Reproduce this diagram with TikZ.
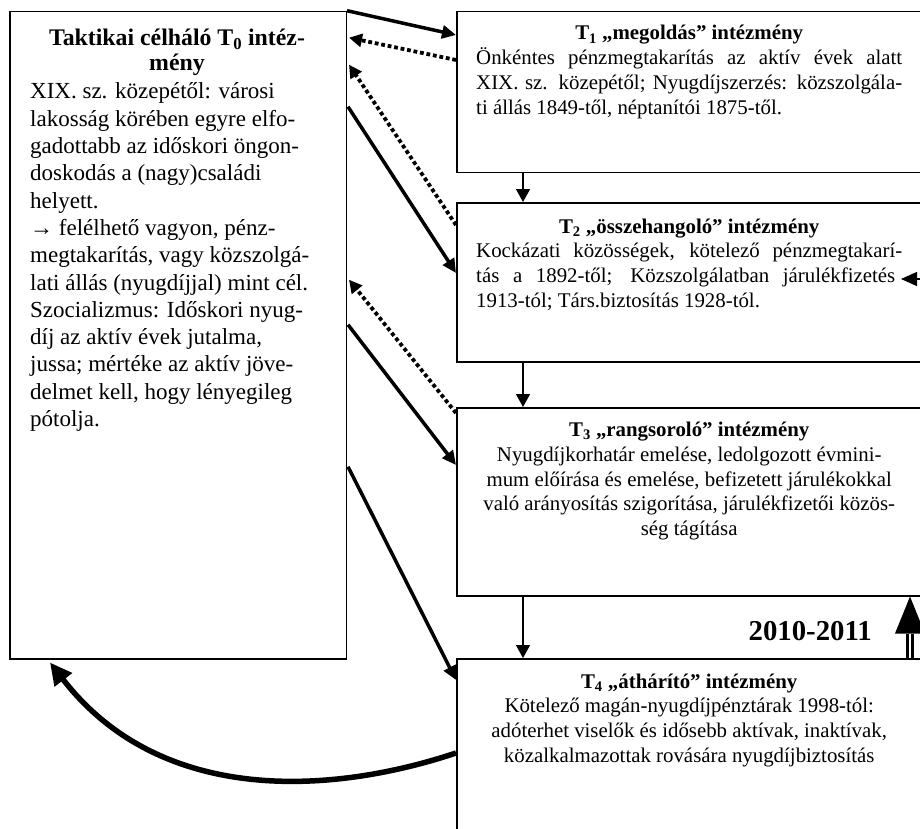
\documentclass[tikz,border=0pt]{standalone}
\usepackage{fontspec}
\setmainfont{Liberation Serif}
\usetikzlibrary{arrows.meta,calc}
\tikzset{
  boxnode/.style={draw, line width=1.5pt, rectangle, inner sep=0pt, anchor=north west},
  lefttext/.style={inner sep=0pt, text width=310pt, align=flush left, anchor=base west,
    font=\fontsize{23.0}{27.3}\selectfont},
  lefttitle/.style={inner sep=0pt, text width=320pt, align=flush center, anchor=base,
    font=\fontsize{23.8}{25}\selectfont\bfseries},
  righttext/.style={inner sep=0pt, text width=426pt, align=flush left, anchor=base west,
    font=\fontsize{20.85}{24.8}\selectfont},
  rightctext/.style={inner sep=0pt, text width=426pt, align=flush center, anchor=base west,
    font=\fontsize{20.85}{24.8}\selectfont},
  solidarrow/.style={line width=3.5pt, -{Triangle[length=14pt,width=13pt]}},
  dotarrow/.style={line width=3.8pt, dash pattern=on 3.8pt off 2.8pt, -{Triangle[length=13pt,width=13pt]}},
  vertarrow/.style={line width=1.5pt, -{Triangle[length=13pt,width=14pt]}},
  thickarrow/.style={line width=5.5pt, -{Triangle[length=22pt,width=21pt]}},
  dblshaft/.style={double, double distance=2.5pt, line width=3pt},
}
\begin{document}
\begin{tikzpicture}[x=1pt,y=-1pt]
\path[use as bounding box, clip] (0,0) rectangle (920,829);

% boxes
\node[boxnode, minimum width=336.5pt, minimum height=647.3pt] (T0) at (9,10.7) {};
\node[boxnode, minimum width=466pt, minimum height=161pt] (T1) at (456,11) {};
\node[boxnode, minimum width=466pt, minimum height=159pt] (T2) at (456,202) {};
\node[boxnode, minimum width=466pt, minimum height=188pt] (T3) at (456,407) {};
\node[boxnode, minimum width=466pt, minimum height=200pt] (T4) at (456,658) {};

% left text
\node[lefttitle] (T0title) at (177,46) {Taktikai célháló T\textsubscript{0} intéz-\\mény};
\node[lefttext] (T0body) at (30,99) {XIX. sz. közepétől: városi\\
lakosság körében egyre elfo-\\
gadottabb az időskori öngon-\\
doskodás a (nagy)családi\\
helyett.\\
→ felélhető vagyon, pénz-\\
megtakarítás, vagy közszolgá-\\
lati állás (nyugdíjjal) mint cél.\\
Szocializmus: Időskori nyug-\\
díj az aktív évek jutalma,\\
jussa; mértéke az aktív jöve-\\
delmet kell, hogy lényegileg\\
pótolja.};

% right texts
\node[righttext] (T1text) at (476,40) {\makebox[\linewidth]{\bfseries T\textsubscript{1} „megoldás” intézmény}\\
\makebox[\linewidth][s]{Önkéntes pénzmegtakarítás az aktív évek alatt}\\
\makebox[\linewidth][s]{XIX. sz. közepétől; Nyugdíjszerzés: közszolgála-}\\
ti állás 1849-től, néptanítói 1875-től.};

\node[righttext] (T2text) at (476,233) {\makebox[\linewidth]{\bfseries T\textsubscript{2} „összehangoló” intézmény}\\
\makebox[\linewidth][s]{Kockázati közösségek, kötelező pénzmegtakarí-}\\
\makebox[\dimexpr\linewidth-7pt\relax][s]{tás a 1892-től; Közszolgálatban járulékfizetés}\\
1913-tól; Társ.biztosítás 1928-tól.};

\node[rightctext] (T3text) at (476,436.5) {{\bfseries T\textsubscript{3} „rangsoroló” intézmény}\\
Nyugdíjkorhatár emelése, ledolgozott évmini-\\
mum előírása és emelése, befizetett járulékokkal\\
való arányosítás szigorítása, járulékfizetői közös-\\
ség tágítása};

\node[rightctext] (T4text) at (476,688) {{\bfseries T\textsubscript{4} „áthárító” intézmény}\\
Kötelező magán-nyugdíjpénztárak 1998-tól:\\
adóterhet viselők és idősebb aktívak, inaktívak,\\
közalkalmazottak rovására nyugdíjbiztosítás};

\node[inner sep=0pt, anchor=base east, font=\fontsize{28.8}{30}\selectfont\bfseries] (yr) at (872,640) {2010-2011};

% vertical arrows
\draw[vertarrow] ($(T1.south west)+(67,0)$) -- ($(T2.north west)+(67,0)$);
\draw[vertarrow] ($(T2.south west)+(67,0)$) -- ($(T3.north west)+(67,0)$);
\draw[vertarrow] ($(T3.south west)+(67,0)$) -- ($(T4.north west)+(67,0)$);

% diagonal arrows
\draw[solidarrow] (T0.north east) -- ($(T1.north west)+(0,24)$);
\draw[dotarrow] ($(T1.north west)+(0,49)$) -- ($(T0.north east)+(2,27)$);
\draw[dotarrow] ($(T2.north west)+(0,23)$) -- ($(T0.north east)+(2,54)$);
\draw[solidarrow] ($(T0.north east)+(1,96)$) -- ($(T2.north west)+(0,71)$);
\draw[dotarrow] ($(T3.north west)+(0,6)$) -- ($(T0.north east)+(2,269)$);
\draw[solidarrow] ($(T0.north east)+(1,314)$) -- ($(T3.north west)+(0,58)$);
\draw[solidarrow] ($(T0.north east)+(1,456)$) -- ($(T4.north west)+(0,22)$);

% thick curved arrow T4 -> T0
\draw[thickarrow] ($(T4.north west)+(0,95)$) .. controls (330,795) and (160,805) .. ($(T0.south west)+(41,3)$);

% arrow head on the right of T2
\coordinate (T2in) at ($(T2.north east)+(20,77)$);
\draw[line width=1.5pt, -{Triangle[length=16pt,width=14pt]}] (T2in) -- ($(T2.north west)+(445,77)$);

% double arrow from T4 up to T3
\coordinate (dA) at ($(T4.north west)+(454,0)$);
\coordinate (dB) at ($(T3.south west)+(454,37)$);
\coordinate (dTip) at ($(T3.south west)+(454,0)$);
\draw[dblshaft] (dA) -- (dB);
\fill ($(dB)+(-15,0)$) -- ($(dB)+(15,0)$) -- (dTip) -- cycle;
\end{tikzpicture}
\end{document}
